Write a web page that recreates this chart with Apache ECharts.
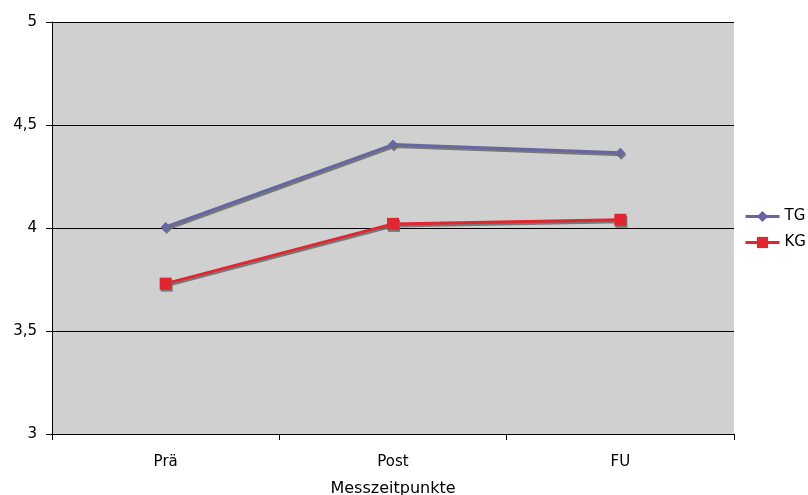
<!DOCTYPE html>
<html>
<head>
<meta charset="utf-8">
<script src="https://cdn.jsdelivr.net/npm/echarts@6/dist/echarts.min.js"></script>
<style>
  html, body { margin: 0; padding: 0; background: #ffffff; }
  #chart { width: 808px; height: 495px; }
</style>
</head>
<body>
<div id="chart"></div>
<script>
// Measurement points and group means
const categories = ['Prä', 'Post', 'FU'];
const tgValues = [4.005, 4.405, 4.365];
const kgValues = [3.73, 4.02, 4.04];
const seriesNames = ['TG', 'KG'];

const fontFamily = '"DejaVu Sans", Verdana, sans-serif';
const chart = echarts.init(document.getElementById('chart'));

const shadow = {
  shadowColor: 'rgba(110,110,110,0.9)',
  shadowBlur: 0,
  shadowOffsetX: 1,
  shadowOffsetY: 2
};

chart.setOption({
  animation: false,
  backgroundColor: '#ffffff',
  grid: {
    left: 52, top: 22, width: 682, height: 412,
    outerBoundsMode: 'none',
    containLabel: false,
    show: true, backgroundColor: '#d0d0d0', borderWidth: 0
  },
  legend: {
    orient: 'vertical',
    left: 744, top: 209,
    padding: 0,
    itemWidth: 34, itemHeight: 14, itemGap: 11,
    lineStyle: { width: 3 },
    textStyle: { fontFamily, fontSize: 15, color: '#000' },
    data: seriesNames
  },
  xAxis: {
    type: 'category',
    data: categories,
    boundaryGap: true,
    name: 'Messzeitpunkte',
    nameLocation: 'middle',
    nameGap: 47,
    nameTextStyle: { fontFamily, fontSize: 16, color: '#000' },
    axisLine: { lineStyle: { color: '#000', width: 1 } },
    axisTick: { show: true, length: 6, lineStyle: { color: '#000' } },
    axisLabel: { fontFamily, fontSize: 15, color: '#000', margin: 21 }
  },
  yAxis: {
    type: 'value',
    min: 3, max: 5, interval: 0.5,
    axisLine: { show: true, lineStyle: { color: '#000', width: 1 } },
    axisTick: { show: true, length: 6, lineStyle: { color: '#000' } },
    splitLine: { show: true, lineStyle: { color: '#000', width: 1 } },
    axisLabel: {
      fontFamily, fontSize: 15, color: '#000', margin: 15,
      formatter: v => String(v).replace('.', ',')
    }
  },
  series: [
    {
      name: seriesNames[0],
      type: 'line',
      data: tgValues,
      symbol: 'diamond',
      symbolSize: 10,
      color: '#6666a0',
      lineStyle: Object.assign({ width: 3, color: '#6666a0' }, shadow),
      itemStyle: Object.assign({ color: '#6666a0' }, shadow)
    },
    {
      name: seriesNames[1],
      type: 'line',
      data: kgValues,
      symbol: 'rect',
      symbolSize: 12,
      color: '#e0262e',
      lineStyle: Object.assign({ width: 3, color: '#e0262e' }, shadow),
      itemStyle: Object.assign({ color: '#e0262e' }, shadow)
    }
  ]
});
</script>
</body>
</html>
